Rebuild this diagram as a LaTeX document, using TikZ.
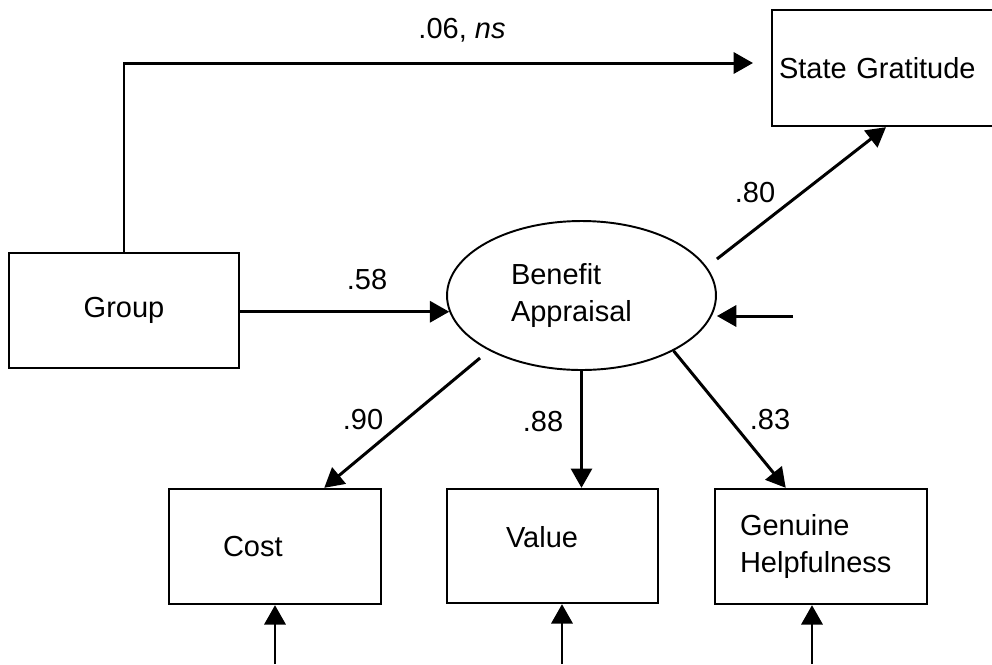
\documentclass[tikz,border=0pt]{standalone}
\usepackage{fontspec}
\setmainfont{Liberation Sans}
\usetikzlibrary{shapes,arrows.meta,positioning}

\begin{document}
\begin{tikzpicture}[x=0.02cm,y=-0.02cm]
            \tikzstyle{every node}=[font=\fontsize{16.5}{20.5}\selectfont]
            \tikzstyle{box}=[rectangle,draw,line width=1.35pt,inner sep=0pt,minimum width=4.24cm,minimum height=2.3cm,align=left]
            \tikzstyle{latent}=[ellipse,draw,line width=1.1pt,inner sep=0pt,minimum width=5.38cm,minimum height=2.98cm,align=left]
            \tikzstyle{path}=[line width=1.7pt,-{Triangle[length=11pt,width=12pt]}]
            \tikzstyle{coef}=[inner sep=0pt]

            \clip (0,0) rectangle (992,664);

            \node[box,minimum width=4.6cm] (group) at (124,310.5) {Group};
            \node[box,minimum width=4.56cm,minimum height=2.32cm,text width=4.28cm] (state) at (886,68) {State Gratitude};
            \node[latent,text width=2.82cm] (benefit) at (581.5,295.5) {Benefit\\Appraisal};

            \node[box,text width=2.08cm] (cost) at (275,546.5) {Cost};
            \node[box,minimum width=4.22cm,minimum height=2.28cm,text width=1.86cm,text depth=10.2pt] (value) at (552.5,546) {Value};
            \node[box,text width=3.24cm] (genuine) at (821,546.5) {Genuine\\Helpfulness};

            % residuals
            \coordinate (nsend) at (753,63);
            \coordinate (ebenefit) at (793,316);
            \coordinate (ecost) at (275,664);
            \coordinate (evalue) at (562,664);
            \coordinate (egenuine) at (812,664);

            \draw[path] (group.north) |- (nsend);
            \draw[path] (group.east |- benefit.187) -- (benefit.187);
            \draw[path] ([yshift=0.73cm]benefit.east) -- (state.south);
            \draw[path] (ebenefit) -- (ebenefit -| benefit.east);
            \draw[path] ([shift={(-2.03cm,-1.25cm)}]benefit.center) -- (cost.50);
            \draw[path] (benefit.south) -- (benefit.south |- value.north);
            \draw[path] (benefit.-31) -- (genuine.121);

            \draw[path] (ecost) -- (cost.south);
            \draw[path] (evalue) -- (evalue |- value.south);
            \draw[path] (egenuine) -- (egenuine |- genuine.south);

            % coefficients
            \node[coef] (c06) at (462,30) {.06, \textit{ns}};
            \node[coef] (c58) at (367,280) {.58};
            \node[coef] (c80) at (755,193) {.80};
            \node[coef] (c90) at (363,420) {.90};
            \node[coef] (c88) at (543,422) {.88};
            \node[coef] (c83) at (770,420) {.83};
        \end{tikzpicture}
\end{document}
